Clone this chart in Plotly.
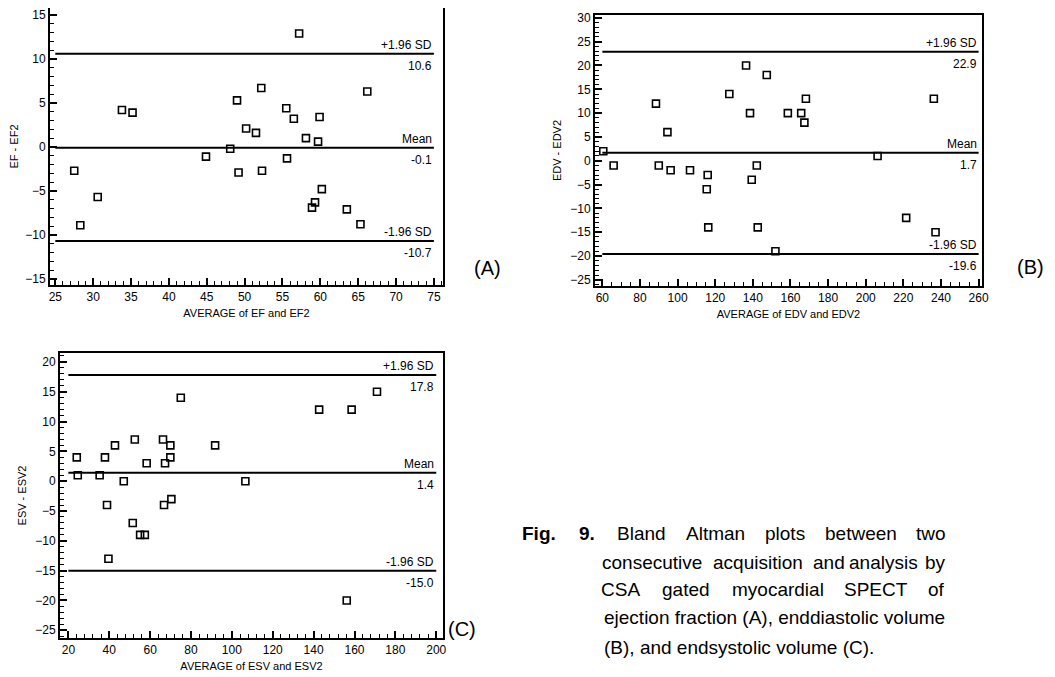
import plotly.graph_objects as go

# ---- data ----
ef_avg = [27.5, 28.3, 30.6, 33.8, 35.2, 44.9, 48.1, 49.0, 49.2, 50.2, 51.5, 52.2, 52.3,
          55.5, 55.6, 56.5, 57.2, 58.1, 58.9, 59.3, 59.7, 59.9, 60.2, 63.5, 65.3, 66.2]
ef_diff = [-2.7, -8.9, -5.7, 4.2, 3.9, -1.1, -0.2, 5.3, -2.9, 2.1, 1.6, 6.7, -2.7,
           4.4, -1.3, 3.2, 12.9, 1.0, -6.9, -6.3, 0.6, 3.4, -4.8, -7.1, -8.8, 6.3]
ef_lines = [10.6, -0.1, -10.7]

edv_avg = [60.5, 66.0, 88.5, 90.0, 94.6, 96.3, 106.6, 116.0, 115.5, 116.3, 127.5, 136.4, 138.5,
           139.4, 142.1, 142.6, 147.4, 152.0, 158.6, 165.7, 167.4, 168.2, 206.3, 221.5, 236.2, 237.1]
edv_diff = [2, -1, 12, -1, 6, -2, -2, -3, -6, -14, 14, 20, 10,
            -4, -1, -14, 18, -19, 10, 10, 8, 13, 1, -12, 13, -15]
edv_lines = [22.9, 1.7, -19.6]

esv_avg = [24.1, 24.6, 35.3, 37.9, 38.9, 39.6, 42.8, 47.1, 51.5, 52.5, 55.1, 57.4, 58.3,
           66.3, 66.8, 67.3, 69.9, 69.9, 70.4, 75.0, 91.8, 106.6, 142.7, 156.2, 158.6, 171.0]
esv_diff = [4, 1, 1, 4, -4, -13, 6, 0, -7, 7, -9, -9, 3,
            7, -4, 3, 6, 4, -3, 14, 6, 0, 12, -20, 12, 15]
esv_lines = [17.8, 1.4, -15.0]

line_names = ["+1.96 SD", "Mean", "-1.96 SD"]

# the page body has an 8px margin, so the figure is a bit smaller and shifted
OFF = 8
W, H = 1055 - OFF, 677 - OFF
FONT = "Liberation Sans, Arial, sans-serif"


def px(x):
    return (x - OFF) / W


def py(y):
    return 1 - (y - OFF) / H


panels = [
    dict(x=ef_avg, y=ef_diff, lines=ef_lines, xt="AVERAGE of EF and EF2", yt="EF - EF2",
         xr=[24.3, 76.2], yr=[-15.7, 15.8], xd=5, xm=1, yd=5, ym=1, span=[25, 75],
         box=(50, 443, 8, 285), tag="(A)", tpos=(487, 268)),
    dict(x=edv_avg, y=edv_diff, lines=edv_lines, xt="AVERAGE of EDV and EDV2", yt="EDV - EDV2",
         xr=[56.1, 261.8], yr=[-26.3, 30.6], xd=20, xm=5, yd=5, ym=1, span=[60, 260],
         box=(595, 982, 15, 286), tag="(B)", tpos=(1030, 267)),
    dict(x=esv_avg, y=esv_diff, lines=esv_lines, xt="AVERAGE of ESV and ESV2", yt="ESV - ESV2",
         xr=[15.9, 203.3], yr=[-26.3, 21.5], xd=20, xm=4, yd=5, ym=1, span=[20, 200],
         box=(60, 443, 353, 638), tag="(C)", tpos=(462, 629)),
]

fig = go.Figure()
annotations = []
shapes = []

for i, p in enumerate(panels):
    n = "" if i == 0 else str(i + 1)
    x0, x1, y0, y1 = p["box"]
    fig.add_trace(go.Scatter(
        x=p["x"], y=p["y"], mode="markers", xaxis="x" + n, yaxis="y" + n,
        marker=dict(symbol="square-open", size=7, color="black", line=dict(width=1.6)),
        showlegend=False, hoverinfo="x+y"))

    axis_common = dict(showline=True, linecolor="black", linewidth=2, mirror=True,
                       showgrid=False, zeroline=False, ticks="inside", ticklen=7,
                       tickcolor="black", tickwidth=1.5, automargin=False,
                       tickfont=dict(family=FONT, size=12, color="black"))
    fig.update_layout(**{
        "xaxis" + n: dict(axis_common, domain=[px(x0), px(x1)], range=p["xr"],
                          anchor="y" + n, tick0=0, dtick=p["xd"],
                          minor=dict(dtick=p["xm"], ticks="inside", ticklen=4,
                                     tickcolor="black", tickwidth=1),
                          title=dict(text=p["xt"], standoff=6,
                                     font=dict(family=FONT, size=11, color="black"))),
        "yaxis" + n: dict(axis_common, domain=[py(y1), py(y0)], range=p["yr"],
                          anchor="x" + n, tick0=0, dtick=p["yd"],
                          minor=dict(dtick=p["ym"], ticks="inside", ticklen=4,
                                     tickcolor="black", tickwidth=1),
                          title=dict(text=p["yt"], standoff=6,
                                     font=dict(family=FONT, size=11, color="black"))),
    })

    for name, val in zip(line_names, p["lines"]):
        shapes.append(dict(type="line", xref="x" + n, yref="y" + n,
                           x0=p["span"][0], x1=p["span"][1], y0=val, y1=val,
                           line=dict(color="black", width=2)))
        annotations.append(dict(xref="x" + n, yref="y" + n, x=p["span"][1], y=val,
                                text=name, showarrow=False, xanchor="right", yanchor="bottom",
                                yshift=0, font=dict(family=FONT, size=12, color="black")))
        annotations.append(dict(xref="x" + n, yref="y" + n, x=p["span"][1], y=val,
                                text="%.1f" % val, showarrow=False, xanchor="right", yanchor="top",
                                yshift=-3, font=dict(family=FONT, size=12, color="black")))

    annotations.append(dict(xref="paper", yref="paper", x=px(p["tpos"][0]), y=py(p["tpos"][1]),
                            text=p["tag"], showarrow=False, xanchor="center", yanchor="middle",
                            font=dict(family=FONT, size=20, color="black")))

# ---- caption: justified lines built word by word, last two lines left aligned ----
cap_font = dict(family=FONT, size=19, color="black")
caption_lines = [
    (533, ["<b>Fig.</b>", "<b>9.</b>", "Bland", "Altman", "plots", "between", "two"],
          [539, 587, 641, 715, 785, 861, 931]),
    (562, ["consecutive", "acquisition", "and", "analysis", "by"],
          [652, 758, 829, 883, 935]),
    (589, ["CSA", "gated", "myocardial", "SPECT", "of"],
          [620, 686, 778, 876, 936]),
]
for ypx, words, centers in caption_lines:
    for w, cx in zip(words, centers):
        annotations.append(dict(xref="paper", yref="paper", x=px(cx), y=py(ypx),
                                text=w, showarrow=False, xanchor="center", yanchor="middle",
                                font=cap_font))
for ypx, txt in [(617, "ejection fraction (A), enddiastolic volume"),
                 (647, "(B), and endsystolic volume (C).")]:
    annotations.append(dict(xref="paper", yref="paper", x=px(602), y=py(ypx),
                            text=txt, showarrow=False, xanchor="left", yanchor="middle",
                            font=cap_font))

fig.update_layout(width=W, height=H, margin=dict(l=0, r=0, t=0, b=0),
                  paper_bgcolor="white", plot_bgcolor="white",
                  shapes=shapes, annotations=annotations)

fig.write_html("out.html")
